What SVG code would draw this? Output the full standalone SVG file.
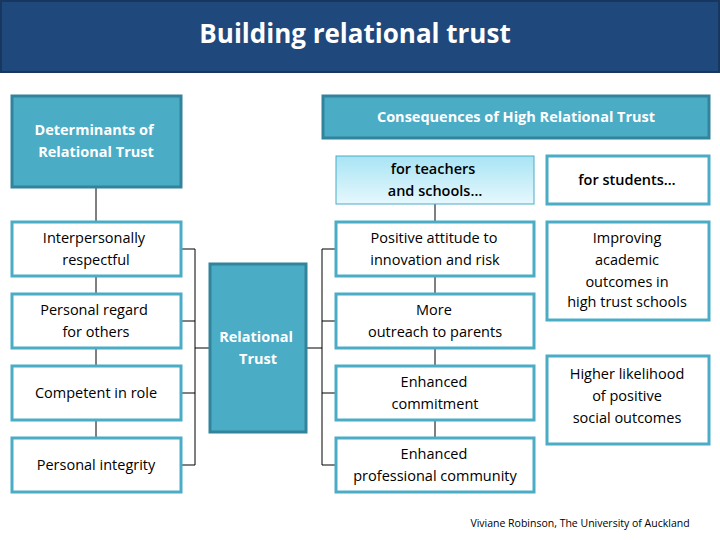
<svg xmlns="http://www.w3.org/2000/svg" width="720" height="540" viewBox="0 0 720 540">
<defs>
<linearGradient id="g" x1="0" y1="0" x2="0" y2="1"><stop offset="0" stop-color="#a8e4f4"/><stop offset="1" stop-color="#e6f8fd"/></linearGradient>
<style>
.t{font-family:"Open Sans","DejaVu Sans",sans-serif;font-size:14.5px;fill:#000;text-anchor:middle}
.b{font-family:"Open Sans","DejaVu Sans",sans-serif;font-size:14.5px;font-weight:bold;fill:#fff;text-anchor:middle}
.w{fill:#fff;stroke:#4bacc6;stroke-width:3}
.d{fill:#4bacc6;stroke:#31849b;stroke-width:3}
.c{fill:none;stroke:#000;stroke-width:1}
</style>
</defs>
<rect width="720" height="540" fill="#fff"/>
<g id="title"><rect x="1" y="1" width="718" height="71" fill="#1f497d" stroke="#17375e" stroke-width="2"/><text x="355" y="43" style="font-family:'Open Sans','DejaVu Sans',sans-serif;font-size:26px;font-weight:bold;fill:#fff;text-anchor:middle">Building relational trust</text></g>
<g id="connectors">
<path class="c" d="M96 187V438M181 249H195M181 321H195M181 393H195M181 465H195M195 249V465M195 348H210M306 348H322M322 249V465M322 249H336M322 321H336M322 393H336M322 465H336M435 204V438"/>
</g>
<g id="det"><rect class="d" x="12" y="96" width="169" height="91"/><text class="b" x="94" y="135">Determinants of</text><text class="b" x="96" y="157">Relational Trust</text></g>
<g id="l1"><rect class="w" x="12" y="222" width="169" height="54"/><text class="t" x="94" y="243">Interpersonally</text><text class="t" x="96" y="265">respectful</text></g>
<g id="l2"><rect class="w" x="12" y="294" width="169" height="54"/><text class="t" x="94" y="315">Personal regard</text><text class="t" x="96" y="337">for others</text></g>
<g id="l3"><rect class="w" x="12" y="366" width="169" height="54"/><text class="t" x="96" y="398">Competent in role</text></g>
<g id="l4"><rect class="w" x="12" y="438" width="169" height="54"/><text class="t" x="96" y="470">Personal integrity</text></g>
<g id="rt"><rect class="d" x="210" y="264" width="96" height="168"/><text class="b" x="256" y="342">Relational</text><text class="b" x="258" y="364">Trust</text></g>
<g id="cons"><rect class="d" x="323" y="96" width="386" height="42"/><text class="b" x="516" y="122">Consequences of High Relational Trust</text></g>
<g id="teach"><rect x="336" y="156" width="198" height="48" fill="url(#g)" stroke="#4bacc6" stroke-width="1"/><text class="t" x="433" y="174" style="font-weight:600">for teachers</text><text class="t" x="435" y="196" style="font-weight:600">and schools…</text></g>
<g id="stud"><rect class="w" x="547" y="156" width="162" height="48"/><text class="t" x="627" y="185" style="font-weight:600">for students…</text></g>
<g id="m1"><rect class="w" x="336" y="222" width="198" height="54"/><text class="t" x="434" y="243">Positive attitude to</text><text class="t" x="435" y="265">innovation and risk</text></g>
<g id="m2"><rect class="w" x="336" y="294" width="198" height="54"/><text class="t" x="434" y="315">More</text><text class="t" x="435" y="337">outreach to parents</text></g>
<g id="m3"><rect class="w" x="336" y="366" width="198" height="54"/><text class="t" x="434" y="387">Enhanced</text><text class="t" x="435" y="409">commitment</text></g>
<g id="m4"><rect class="w" x="336" y="438" width="198" height="54"/><text class="t" x="434" y="459">Enhanced</text><text class="t" x="435" y="481">professional community</text></g>
<g id="r1"><rect class="w" x="547" y="222" width="162" height="98"/><text class="t" x="627" y="243">Improving</text><text class="t" x="627" y="265">academic</text><text class="t" x="627" y="287">outcomes in</text><text class="t" x="627" y="307">high trust schools</text></g>
<g id="r2"><rect class="w" x="547" y="356" width="162" height="88"/><text class="t" x="627" y="379">Higher likelihood</text><text class="t" x="627" y="401">of positive</text><text class="t" x="627" y="423">social outcomes</text></g>
<text x="580" y="527" style="font-family:'Open Sans','DejaVu Sans',sans-serif;font-size:10.5px;fill:#000;text-anchor:middle">Viviane Robinson, The University of Auckland</text>
</svg>
